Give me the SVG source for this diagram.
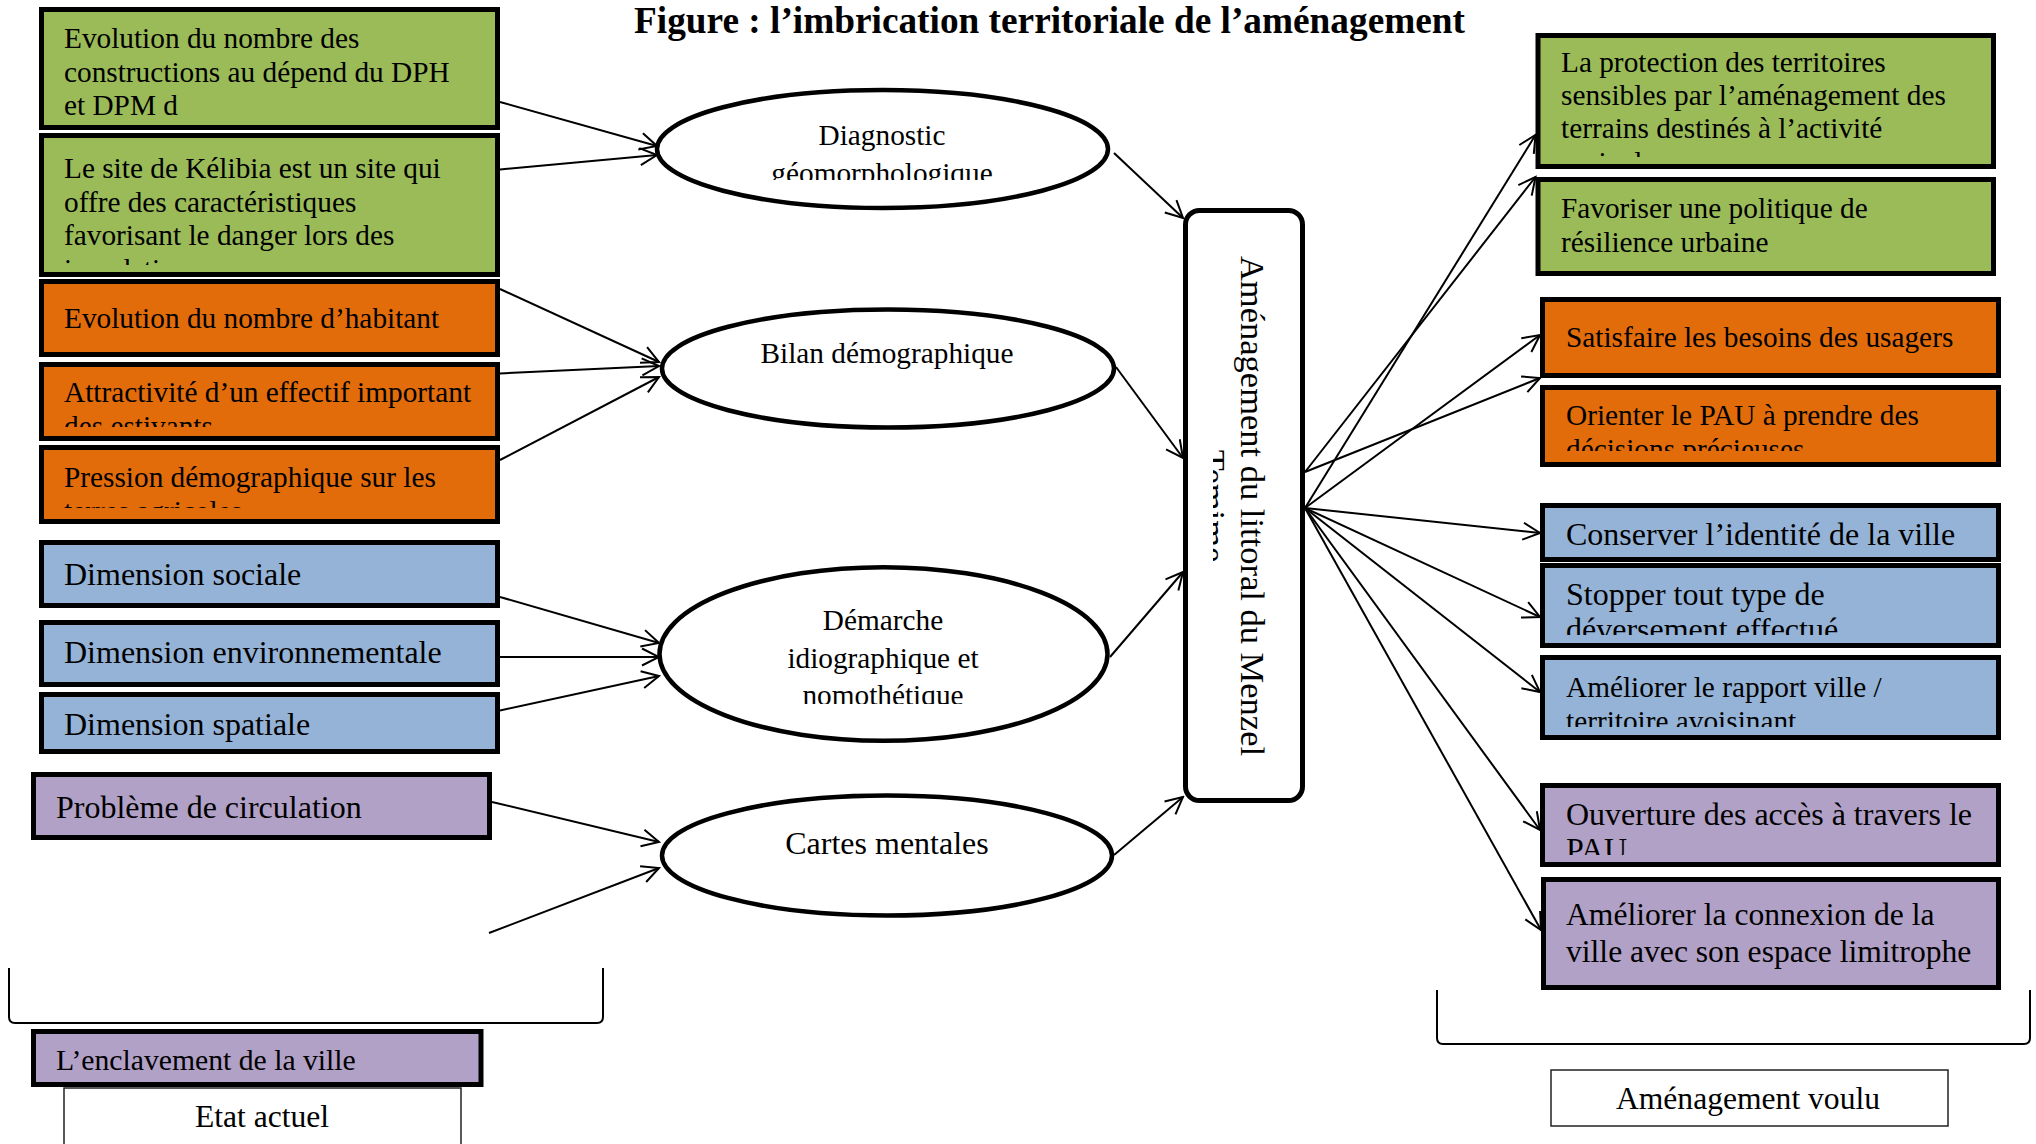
<svg xmlns="http://www.w3.org/2000/svg" width="2036" height="1144" viewBox="0 0 2036 1144">
  <style>
    .t { font-family: "Liberation Serif", "Times New Roman", serif; font-size: 29.3px; fill: #000; }
    .big { font-size: 32px; }
    .tc { text-anchor: middle; }
    .title { font-family: "Liberation Serif", "Times New Roman", serif; font-size: 37.3px; font-weight: bold; fill: #000; }
    .lbl { font-family: "Liberation Serif", "Times New Roman", serif; font-size: 31.6px; fill: #000; text-anchor: middle; }
    .box { stroke: #000; stroke-width: 5; }
    .green { fill: #9BBB59; }
    .orange { fill: #E36C0A; }
    .blue { fill: #95B3D7; }
    .purple { fill: #B2A1C7; }
    .ell { fill: #fff; stroke: #000; stroke-width: 4.5; }
    .frame { fill: #fff; stroke: #222; stroke-width: 1.5; }
    .brace { fill: none; stroke: #000; stroke-width: 2; }
    .conn { fill: none; stroke: #000; stroke-width: 2; marker-end: url(#arr); }
  </style>
  <defs>
    <marker id="arr" markerUnits="userSpaceOnUse" markerWidth="22" markerHeight="22" viewBox="-20 -11 22 22" refX="0" refY="0" orient="auto">
      <path d="M-17,-8.5 L0,0 L-17,8.5" fill="none" stroke="#000" stroke-width="2"/>
    </marker>
    <!-- text areas of boxes whose text overflows -->
    <clipPath id="c-b2"><rect x="44" y="138" width="453" height="127"/></clipPath>
    <clipPath id="c-b4"><rect x="44" y="366" width="453" height="61"/></clipPath>
    <clipPath id="c-b5"><rect x="44" y="449" width="453" height="59"/></clipPath>
    <clipPath id="c-e1"><rect x="700" y="100" width="365" height="80"/></clipPath>
    <clipPath id="c-e3"><rect x="720" y="590" width="330" height="114"/></clipPath>
    <clipPath id="c-mid"><rect x="1213" y="213" width="88" height="585"/></clipPath>
    <clipPath id="c-r1"><rect x="1540" y="38" width="453" height="119"/></clipPath>
    <clipPath id="c-r4"><rect x="1545" y="390" width="453" height="61"/></clipPath>
    <clipPath id="c-r6"><rect x="1545" y="568" width="453" height="67"/></clipPath>
    <clipPath id="c-r7"><rect x="1545" y="660" width="453" height="67"/></clipPath>
    <clipPath id="c-r8"><rect x="1545" y="788" width="453" height="67"/></clipPath>
  </defs>

  <rect width="2036" height="1144" fill="#fff"/>

  <text class="title" x="634" y="33">Figure : l’imbrication territoriale de l’aménagement</text>

  <!-- current state: left column -->
  <g id="node-dph">
    <rect class="box green" x="41.5" y="9.5" width="456" height="118"/>
    <text class="t" x="64" y="48">Evolution du nombre des</text>
    <text class="t" x="64" y="82">constructions au dépend du DPH</text>
    <text class="t" x="64" y="115">et DPM d</text>
  </g>
  <g id="node-kelibia">
    <rect class="box green" x="41.5" y="135.5" width="456" height="139"/>
    <g clip-path="url(#c-b2)">
      <text class="t" x="64" y="178">Le site de Kélibia est un site qui</text>
      <text class="t" x="64" y="211.5">offre des caractéristiques</text>
      <text class="t" x="64" y="245">favorisant le danger lors des</text>
      <text class="t" x="64" y="278.5">inondations</text>
    </g>
  </g>
  <g id="node-habitants">
    <rect class="box orange" x="41.5" y="281.5" width="456" height="73"/>
    <text class="t" x="64" y="328">Evolution du nombre d’habitant</text>
  </g>
  <g id="node-estivants">
    <rect class="box orange" x="41.5" y="364.5" width="456" height="74"/>
    <g clip-path="url(#c-b4)">
      <text class="t" x="64" y="402">Attractivité d’un effectif important</text>
      <text class="t" x="64" y="435.5">des estivants</text>
    </g>
  </g>
  <g id="node-pression">
    <rect class="box orange" x="41.5" y="447.5" width="456" height="74"/>
    <g clip-path="url(#c-b5)">
      <text class="t" x="64" y="487">Pression démographique sur les</text>
      <text class="t" x="64" y="520.5">terres agricoles</text>
    </g>
  </g>
  <g id="node-sociale">
    <rect class="box blue" x="41.5" y="542.5" width="456" height="63"/>
    <text class="t big" x="64" y="585">Dimension sociale</text>
  </g>
  <g id="node-environnementale">
    <rect class="box blue" x="41.5" y="622.5" width="456" height="62"/>
    <text class="t big" x="64" y="663">Dimension environnementale</text>
  </g>
  <g id="node-spatiale">
    <rect class="box blue" x="41.5" y="694.5" width="456" height="57"/>
    <text class="t big" x="64" y="735">Dimension spatiale</text>
  </g>
  <g id="node-circulation">
    <rect class="box purple" x="33.5" y="774.5" width="456" height="63"/>
    <text class="t big" x="56" y="818">Problème de circulation</text>
  </g>
  <g id="node-enclavement">
    <rect class="box purple" x="33.5" y="1031.5" width="447.5" height="53"/>
    <text class="t" style="font-size:29.7px" x="56" y="1070">L’enclavement de la ville</text>
  </g>

  <!-- methods -->
  <g id="node-diagnostic">
    <ellipse class="ell" cx="882.5" cy="149" rx="225.5" ry="59"/>
    <g clip-path="url(#c-e1)">
      <text class="t tc" x="882" y="145">Diagnostic</text>
      <text class="t tc" x="882" y="182.7">géomorphologique</text>
    </g>
  </g>
  <g id="node-bilan">
    <ellipse class="ell" cx="888" cy="368.5" rx="226" ry="59"/>
    <text class="t tc" x="887" y="363">Bilan démographique</text>
  </g>
  <g id="node-demarche">
    <ellipse class="ell" cx="883.5" cy="654" rx="224" ry="86.8"/>
    <g clip-path="url(#c-e3)">
      <text class="t tc" x="883" y="630">Démarche</text>
      <text class="t tc" x="883" y="667.7">idiographique et</text>
      <text class="t tc" x="883" y="705.4">nomothétique</text>
    </g>
  </g>
  <g id="node-cartes">
    <ellipse class="ell" cx="887" cy="855.5" rx="225" ry="60"/>
    <text class="t big tc" x="887" y="854">Cartes mentales</text>
  </g>

  <!-- central node, vertical text -->
  <g id="node-amenagement">
    <rect x="1185.5" y="210.5" width="117" height="590" rx="14" fill="#fff" stroke="#000" stroke-width="5"/>
    <g clip-path="url(#c-mid)">
      <g transform="translate(1241,506) rotate(90)">
        <text class="t tc" style="font-size:34.5px" x="0" y="0">Aménagement du littoral du Menzel</text>
        <text class="t tc" style="font-size:34.5px" x="0" y="39.4">Temime</text>
      </g>
    </g>
  </g>

  <!-- intended planning: right column -->
  <g id="node-protection">
    <rect class="box green" x="1538" y="35.5" width="455.5" height="131"/>
    <g clip-path="url(#c-r1)">
      <text class="t" x="1561" y="72">La protection des territoires</text>
      <text class="t" x="1561" y="105">sensibles par l’aménagement des</text>
      <text class="t" x="1561" y="138">terrains destinés à l’activité</text>
      <text class="t" x="1561" y="171.5">agricole</text>
    </g>
  </g>
  <g id="node-resilience">
    <rect class="box green" x="1538" y="179.5" width="455.5" height="94"/>
    <text class="t" x="1561" y="218">Favoriser une politique de</text>
    <text class="t" x="1561" y="252">résilience urbaine</text>
  </g>
  <g id="node-besoins">
    <rect class="box orange" x="1542.5" y="299.5" width="456" height="76"/>
    <text class="t" x="1566" y="347">Satisfaire les besoins des usagers</text>
  </g>
  <g id="node-pau">
    <rect class="box orange" x="1542.5" y="387.5" width="456" height="77"/>
    <g clip-path="url(#c-r4)">
      <text class="t" x="1566" y="425">Orienter le PAU à prendre des</text>
      <text class="t" x="1566" y="458.5">décisions précieuses</text>
    </g>
  </g>
  <g id="node-identite">
    <rect class="box blue" x="1542.5" y="505.5" width="456" height="54"/>
    <text class="t big" x="1566" y="545">Conserver l’identité de la ville</text>
  </g>
  <g id="node-deversement">
    <rect class="box blue" x="1542.5" y="565.5" width="456" height="80"/>
    <g clip-path="url(#c-r6)">
      <text class="t big" x="1566" y="605">Stopper tout type de</text>
      <text class="t big" x="1566" y="639.5">déversement effectué</text>
    </g>
  </g>
  <g id="node-rapport">
    <rect class="box blue" x="1542.5" y="657.5" width="456" height="80"/>
    <g clip-path="url(#c-r7)">
      <text class="t" x="1566" y="697">Améliorer le rapport ville /</text>
      <text class="t" x="1566" y="730.5">territoire avoisinant</text>
    </g>
  </g>
  <g id="node-acces">
    <rect class="box purple" x="1542.5" y="785.5" width="456" height="79"/>
    <g clip-path="url(#c-r8)">
      <text class="t big" x="1566" y="825">Ouverture des accès à travers le</text>
      <text class="t big" x="1566" y="860">PAU</text>
    </g>
  </g>
  <g id="node-connexion">
    <rect class="box purple" x="1543.5" y="879.5" width="455" height="108"/>
    <text class="t" style="font-size:31.6px" x="1566" y="925">Améliorer la connexion de la</text>
    <text class="t" style="font-size:31.6px" x="1566" y="962">ville avec son espace limitrophe</text>
  </g>

  <!-- braces and captions -->
  <g id="caption-actuel">
    <path class="brace" d="M9,968 L9,1017 Q9,1023 15,1023 L597,1023 Q603,1023 603,1017 L603,968"/>
    <rect class="frame" x="64" y="1088" width="397" height="70"/>
    <text class="lbl" x="262" y="1127">Etat actuel</text>
  </g>
  <g id="caption-voulu">
    <path class="brace" d="M1437,990 L1437,1038 Q1437,1044 1443,1044 L2024,1044 Q2030,1044 2030,1038 L2030,990"/>
    <rect class="frame" x="1551" y="1070" width="397" height="56"/>
    <text class="lbl" x="1748" y="1109">Aménagement voulu</text>
  </g>

  <g id="connectors">
    <line class="conn" x1="500" y1="102" x2="657" y2="146"/>
    <line class="conn" x1="500" y1="169.5" x2="657" y2="155"/>
    <line class="conn" x1="500" y1="289" x2="659" y2="362"/>
    <line class="conn" x1="500" y1="373.5" x2="659" y2="366"/>
    <line class="conn" x1="500" y1="460" x2="659" y2="377"/>
    <line class="conn" x1="500" y1="597" x2="659" y2="643"/>
    <line class="conn" x1="500" y1="657" x2="659" y2="657"/>
    <line class="conn" x1="500" y1="710.5" x2="659" y2="676"/>
    <line class="conn" x1="492" y1="802" x2="659" y2="842"/>
    <line class="conn" x1="489" y1="933" x2="659" y2="868"/>

    <line class="conn" x1="1114" y1="153" x2="1183" y2="218"/>
    <line class="conn" x1="1116" y1="367" x2="1183" y2="458"/>
    <line class="conn" x1="1110" y1="657" x2="1183" y2="572"/>
    <line class="conn" x1="1114" y1="855" x2="1183" y2="797"/>

    <line class="conn" x1="1305" y1="472" x2="1535.5" y2="177"/>
    <line class="conn" x1="1305" y1="472" x2="1540" y2="378"/>
    <line class="conn" x1="1305" y1="508" x2="1535.5" y2="135"/>
    <line class="conn" x1="1305" y1="508" x2="1540" y2="335"/>
    <line class="conn" x1="1305" y1="508" x2="1540" y2="533"/>
    <line class="conn" x1="1305" y1="508" x2="1540" y2="617"/>
    <line class="conn" x1="1305" y1="508" x2="1540" y2="692"/>
    <line class="conn" x1="1305" y1="508" x2="1540" y2="830"/>
    <line class="conn" x1="1305" y1="508" x2="1541" y2="930"/>
  </g>
</svg>
